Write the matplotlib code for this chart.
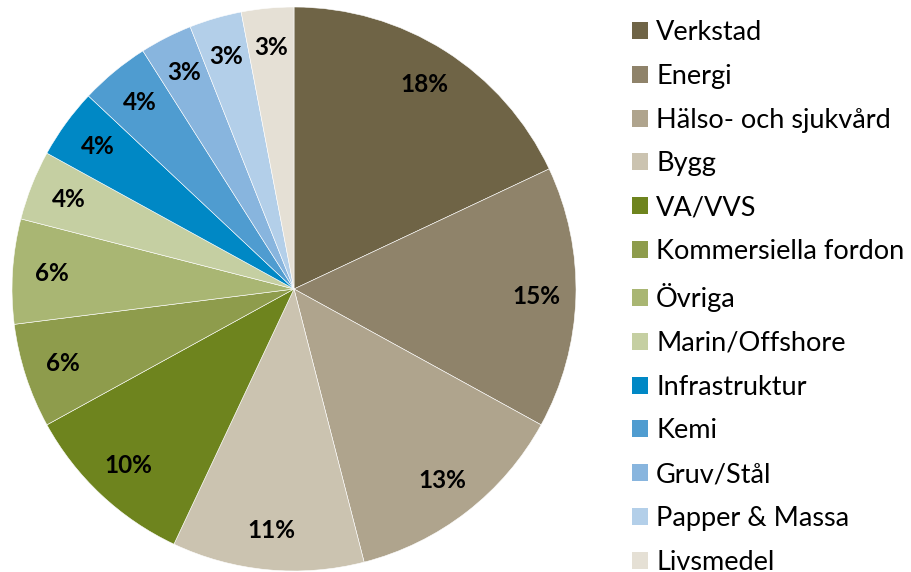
import matplotlib
matplotlib.use('Agg')
import matplotlib.pyplot as plt
import matplotlib.patches as mpatches

plt.rcParams['font.family'] = ['Lato', 'DejaVu Sans']

BRANSCHER = ['Verkstad', 'Energi', 'Hälso- och sjukvård', 'Bygg', 'VA/VVS',
             'Kommersiella fordon', 'Övriga', 'Marin/Offshore', 'Infrastruktur',
             'Kemi', 'Gruv/Stål', 'Papper & Massa', 'Livsmedel']
ANDEL = [18, 15, 13, 11, 10, 6, 6, 4, 4, 4, 3, 3, 3]
FARGER = ['#6f6446', '#8f836a', '#afa48d', '#cbc3b0', '#6e841e',
          '#8e9c4c', '#a9b673', '#c5cfa2', '#0088c5',
          '#4f9cd0', '#88b5de', '#b3cfe9', '#e5e0d5']

W, H = 911, 572
fig = plt.figure(figsize=(W / 100, H / 100), dpi=100)
fig.patch.set_facecolor('white')

# pie centre ~ (294, 289) px, radius ~ 282 px
cx, cy, r = 294, 289, 282
ax = fig.add_axes([(cx - r) / W, (H - cy - r) / H, 2 * r / W, 2 * r / H])
ax.pie(ANDEL, colors=FARGER, startangle=90, counterclock=False,
       autopct='%1.0f%%', pctdistance=0.86, radius=1.0,
       wedgeprops=dict(edgecolor='white', linewidth=0.4),
       textprops=dict(fontsize=17.5, fontweight='bold', color='black'))
ax.set_xlim(-1, 1)
ax.set_ylim(-1, 1)
ax.set_aspect('equal')
ax.axis('off')

# the reference legend runs past the bottom edge ("Livsmedel" is cut off)
handles = [mpatches.Patch(facecolor=c, edgecolor='none', label=b)
           for b, c in zip(BRANSCHER, FARGER)]
fig.legend(handles=handles, loc='upper left',
           bbox_to_anchor=(632 / W, 1 - 20 / H), frameon=False,
           fontsize=19.5, handlelength=0.59, handleheight=0.59,
           handletextpad=0.3, labelspacing=0.695, borderpad=0, borderaxespad=0)

fig.savefig('out.png', dpi=100)
